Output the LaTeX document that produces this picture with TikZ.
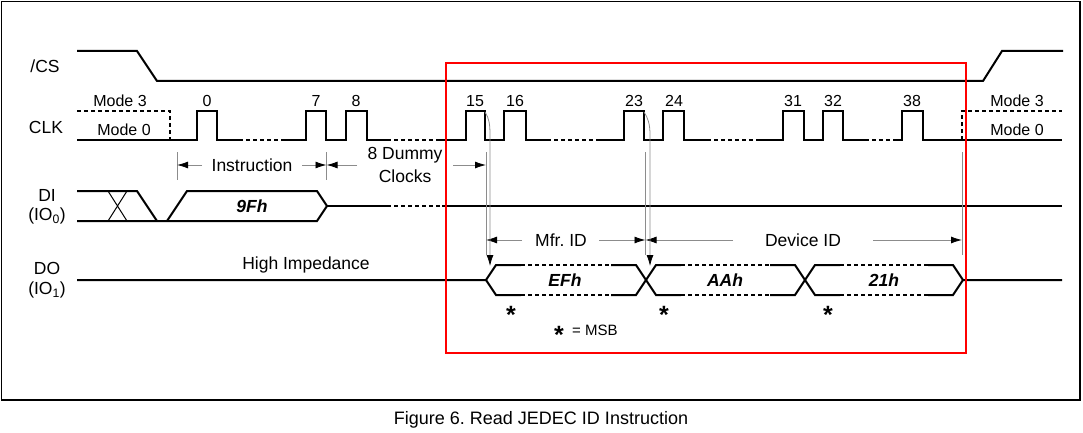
\documentclass[tikz,border=0pt]{standalone}
\usepackage{fontspec}
\setmainfont{Liberation Sans}
\usetikzlibrary{arrows.meta}
\begin{document}
\begin{tikzpicture}[x=1pt,y=-1pt,
  sig/.style={line width=2pt,line join=miter},
  dsig/.style={line width=2pt,dash pattern=on 4pt off 3pt},
  thinx/.style={line width=1pt},
  ext/.style={draw=black!45,line width=0.8pt},
  dim/.style={draw=black!45,line width=0.8pt,-{Latex[length=11pt,width=7pt,color=black]}},
  lbl/.style={inner sep=0pt,font=\fontsize{17.5}{20}\selectfont},
  num/.style={inner sep=0pt,font=\fontsize{16}{18}\selectfont},
  busl/.style={inner sep=0pt,font=\fontsize{17.5}{20}\selectfont\bfseries\itshape},
  star/.style={inner sep=0pt,anchor=base,font=\fontsize{25}{25}\selectfont\bfseries},
]
\useasboundingbox (0,0) rectangle (1083,433);
% frame
\draw[line width=1.5pt] (1.5,1.5) rectangle (1080,400);
\node[inner sep=0pt,font=\fontsize{18}{20}\selectfont] (cap) at (541,420) {Figure 6.\ Read JEDEC ID Instruction};

% signal names
\node[lbl] (ncs) at (45,66) {/CS};
\node[lbl] (nclk) at (46,127) {CLK};
\node[lbl] (ndi) at (47,195) {DI};
\node[lbl] (ndi2) at (47,216) {(IO\textsubscript{0})};
\node[lbl] (ndo) at (47,268) {DO};
\node[lbl] (ndo2) at (47,290) {(IO\textsubscript{1})};

% /CS
\draw[sig] (77,51) -- (137,51) -- (157,81) -- (983,81) -- (1002,51) -- (1063,51);

% CLK
\draw[sig] (77,140) -- (197,140) -- (197,111) -- (217,111) -- (217,140) -- (239,140);
\draw[dsig] (239,140) -- (284,140);
\draw[sig] (284,140) -- (306,140) -- (306,111) -- (326,111) -- (326,140) -- (346,140) -- (346,111) -- (367,111) -- (367,140) -- (387,140);
\draw[dsig] (387,140) -- (439,140);
\draw[sig] (439,140) -- (466,140) -- (466,111) -- (485,111) -- (485,140) -- (504,140) -- (504,111) -- (526,111) -- (526,140) -- (547,140);
\draw[dsig] (547,140) -- (599,140);
\draw[sig] (599,140) -- (624,140) -- (624,111) -- (644,111) -- (644,140) -- (663,140) -- (663,111) -- (684,111) -- (684,140) -- (707,140);
\draw[dsig] (707,140) -- (760,140);
\draw[sig] (760,140) -- (783,140) -- (783,111) -- (804,111) -- (804,140) -- (823,140) -- (823,111) -- (843,111) -- (843,140) -- (865,140);
\draw[dsig] (865,140) -- (897,140);
\draw[sig] (897,140) -- (902,140) -- (902,111) -- (923,111) -- (923,140) -- (1062,140);
\draw[dsig] (77,111) -- (170,111) -- (170,140);
\draw[dsig] (962,140) -- (962,111) -- (1062,111);

\node[num] (m3a) at (120,101) {Mode 3};
\node[num] (m0a) at (124,130) {Mode 0};
\node[num] (m3b) at (1017,101) {Mode 3};
\node[num] (m0b) at (1017,130) {Mode 0};
\foreach \x/\t in {207/0,316/7,356/8,475/15,515/16,634/23,674/24,793/31,833/32,912/38}
  \node[num] (p\t) at (\x,101) {\t};

% DI
\draw[sig] (77,191) -- (137,191) -- (157,221);
\draw[sig] (77,221) -- (317,221) -- (327,206) -- (317,191) -- (187,191) -- (167,221);
\draw[thinx] (108,191) -- (127,221) (108,221) -- (127,191);
\draw[sig] (327,206) -- (387,206);
\draw[dsig] (387,206) -- (442,206);
\draw[sig] (442,206) -- (1062,206);
\node[busl] (b9f) at (252,206) {9Fh};

% DO
\draw[sig] (77,280) -- (486,280) -- (496,265) -- (521,265);
\draw[sig] (486,280) -- (496,295) -- (521,295);
\draw[sig] (611,265) -- (636,265) -- (656,295) -- (681,295);
\draw[sig] (611,295) -- (636,295) -- (656,265) -- (681,265);
\draw[sig] (770,265) -- (795,265) -- (815,295) -- (840,295);
\draw[sig] (770,295) -- (795,295) -- (815,265) -- (840,265);
\draw[sig] (928,265) -- (953,265) -- (963,280) -- (1062,280);
\draw[sig] (928,295) -- (953,295) -- (963,280);
\foreach \a/\b in {521/611,681/770,840/928}
  \draw[dsig] (\a,265) -- (\b,265) (\a,295) -- (\b,295);
\node[lbl] (hiz) at (306,265) {High Impedance};
\node[busl] (bef) at (565,280) {EFh};
\node[busl] (baa) at (725,280) {AAh};
\node[busl] (b21) at (884,280) {21h};
\node[star] (s1) at (511,323) {*};
\node[star] (s2) at (664,323) {*};
\node[star] (s3) at (828,323) {*};
\node[star] (s4) at (559,343) {*};
\node[inner sep=0pt,anchor=west,font=\fontsize{15}{18}\selectfont] (msb) at (572,330) {= MSB};

% extension lines
\coordinate (e1t) at (177,152); \coordinate (e1b) at (177,180);
\coordinate (e2t) at (326.5,152); \coordinate (e2b) at (326.5,180);
\coordinate (e3t) at (486,152); \coordinate (e3b) at (486,255);
\coordinate (e4t) at (645.5,152); \coordinate (e4b) at (645.5,255);
\coordinate (e5t) at (962,152); \coordinate (e5b) at (962,255);
\foreach \i in {1,...,5} \draw[ext] (e\i t) -- (e\i b);

% dimension arrows
\node[lbl] (tins) at (252,165) {Instruction};
\node[lbl] (tdum1) at (405,155) {8 Dummy};
\node[lbl] (tdum2) at (405,176) {Clocks};
\node[lbl] (tmfr) at (561,240) {Mfr.\ ID};
\node[lbl] (tdev) at (803,240) {Device ID};
\draw[dim] (202,165) -- (e1t |- 0,165);
\draw[dim] (302,165) -- (e2t |- 0,165);
\draw[dim] (357,165) -- (e2t |- 0,165);
\draw[dim] (453,165) -- (e3t |- 0,165);
\draw[dim] (522,240) -- (e3t |- 0,240);
\draw[dim] (599,240) -- (e4t |- 0,240);
\draw[dim] (733,240) -- (e4t |- 0,240);
\draw[dim] (873,240) -- (e5t |- 0,240);

% output valid timing lines
\coordinate (f15) at (485,112);
\coordinate (f23) at (644,112);
\coordinate (v1) at (490,266);
\coordinate (v2) at (650,266);
\draw[dim] (f15) .. controls (489,118) and (490,124) .. (490,135) -- (v1);
\draw[dim] (f23) .. controls (648,118) and (650,124) .. (650,135) -- (v2);

% highlight box
\draw[red, line width=1.8pt] (446,63) rectangle (966,353);
\end{tikzpicture}
\end{document}
